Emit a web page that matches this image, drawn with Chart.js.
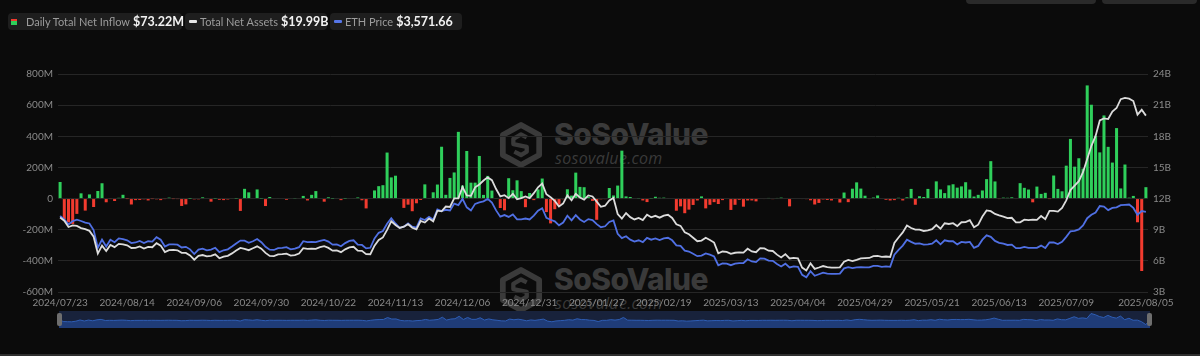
<!DOCTYPE html>
<html><head><meta charset="utf-8">
<script src="https://cdn.jsdelivr.net/npm/chart.js@4.4.1/dist/chart.umd.min.js"></script>
<style>
html,body{margin:0;padding:0;background:#0b0b0b;width:1200px;height:356px;overflow:hidden;font-family:Lato,"Noto Sans",sans-serif;}
#wrap{position:relative;width:1200px;height:356px;}
#main{position:absolute;left:0;top:0;}
.pill{position:absolute;top:13px;height:17px;background:#1e1e1e;border-radius:4px;display:flex;align-items:center;white-space:nowrap;box-sizing:border-box;}
.pill > span{flex-shrink:0;}
.lab{color:#9c9c9c;font-size:11px;}
.val{color:#f2f2f2;font-size:12.5px;font-weight:700;margin-left:3px;}
.ic1{width:6px;height:6px;margin-left:3px;margin-right:9px;background:linear-gradient(#f03a2e 0 35%,#2fce5a 35% 100%);}
.dash{width:8px;height:3px;border-radius:1px;margin-left:4px;margin-right:3px;}
.topbtn{position:absolute;top:-6px;height:10px;background:#2a2a2a;border-radius:4px;}
.wm{position:absolute;pointer-events:none;color:#3a3a3a;}
.wm .t1{position:absolute;left:55px;top:-6px;font-family:Inter,"Open Sans",sans-serif;font-weight:800;font-size:30px;letter-spacing:-0.6px;}
.wm .t2{position:absolute;left:56px;top:25px;font-family:"Open Sans",sans-serif;font-style:italic;font-size:16px;letter-spacing:0.3px;}
#navbox{position:absolute;left:59px;top:311px;width:1091px;height:17px;background:#18223b;}
#nav{position:absolute;left:0;top:0;}
.handle{position:absolute;top:313px;width:5px;height:13px;background:#6e6e6e;border-radius:2px;}
#bottomline{position:absolute;left:0;top:354px;width:1200px;height:2px;background:#2e2e2e;}
</style>
</head>
<body>
<div id="wrap">
  <div class="wm" style="left:499px;top:122px;width:220px;height:50px">
    <svg width="44" height="46" viewBox="0 0 46 48" style="position:absolute;left:0;top:0">
      <polygon points="23,3 42,13.5 42,34.5 23,45 4,34.5 4,13.5" fill="none" stroke="#3a3a3a" stroke-width="6" stroke-linejoin="round"/>
      <path d="M29 16 L23 13 L15 17.5 L15 23 L29 26 L29 31 L23 34.5 L16 31" fill="none" stroke="#3a3a3a" stroke-width="4.5" stroke-linejoin="round"/>
    </svg>
    <div class="t1">SoSoValue</div>
    <div class="t2">sosovalue.com</div>
  </div>
  <div class="wm" style="left:499px;top:267px;width:220px;height:50px">
    <svg width="44" height="46" viewBox="0 0 46 48" style="position:absolute;left:0;top:0">
      <polygon points="23,3 42,13.5 42,34.5 23,45 4,34.5 4,13.5" fill="none" stroke="#3a3a3a" stroke-width="6" stroke-linejoin="round"/>
      <path d="M29 16 L23 13 L15 17.5 L15 23 L29 26 L29 31 L23 34.5 L16 31" fill="none" stroke="#3a3a3a" stroke-width="4.5" stroke-linejoin="round"/>
    </svg>
    <div class="t1">SoSoValue</div>
    <div class="t2">sosovalue.com</div>
  </div>
  <canvas id="main" width="1200" height="356"></canvas>
  <div class="topbtn" style="left:966px;width:130px"></div>
  <div class="topbtn" style="left:1102px;width:95px"></div>
  <div class="pill" style="left:8px;width:174px"><span class="ic1"></span><span class="lab">Daily Total Net Inflow</span><span class="val" id="v1"></span></div>
  <div class="pill" style="left:185px;width:142px"><span class="dash" style="background:#e6e6e6"></span><span class="lab">Total Net Assets</span><span class="val" id="v2"></span></div>
  <div class="pill" style="left:330px;width:132px"><span class="dash" style="background:#5676e8"></span><span class="lab">ETH Price</span><span class="val" id="v3"></span></div>
  <div id="navbox"><canvas id="nav" width="1091" height="17"></canvas></div>
  <div class="handle" style="left:57px"></div>
  <div class="handle" style="left:1147px"></div>
  <div id="bottomline"></div>
</div>
<script>
// ---- categories (US trading days) ----
const startDate = '2024-07-23';
const endDate = '2025-08-05';
const marketHolidays = ['2024-09-02','2024-11-28','2024-12-25','2025-01-01','2025-01-09','2025-01-20','2025-02-17','2025-04-18','2025-05-26','2025-06-19','2025-07-04'];
const tickLabels = ['2024/07/23','2024/08/14','2024/09/06','2024/09/30','2024/10/22','2024/11/13','2024/12/06','2024/12/31','2025/01/27','2025/02/19','2025/03/13','2025/04/04','2025/04/29','2025/05/21','2025/06/13','2025/07/09','2025/08/05'];

const categories = [];
for (let d = new Date(startDate + 'T00:00:00Z'); d <= new Date(endDate + 'T00:00:00Z'); d.setUTCDate(d.getUTCDate() + 1)) {
  const iso = d.toISOString().slice(0, 10);
  const wd = d.getUTCDay();
  if (wd === 0 || wd === 6 || marketHolidays.includes(iso)) continue;
  categories.push(iso.replace(/-/g, '/'));
}

// ---- series: Daily Total Net Inflow (USD millions) ----
const netInflow = [
  106.6,-133.3,-152.3,-162.7,-98.3,33.7,-77.2,26.7,-54.3,48.8,
  98.4,-23.7,-2.0,-15.7,4.9,24.3,-0.3,-38,-10,-9,
  -5,-12,-1,-5,-10,-2,6,-1,-2,-47.4,
  -37.5,0.1,-5.2,-5,8,0,-20,1,-8,-10,
  -6,3,1,-79.3,62.5,40,0,58.7,1,-48,
  10,-3,3,0,-8,0,2,0,17,-12,
  24,48,0,-20,8,1,0,-10,1,3,
  3,7,-10.9,-63.2,0,52.3,79.7,85.9,295.5,135.9,
  146.9,-3.2,-59.8,-39.1,-81.3,-30.3,-9.2,91.2,2.8,40.3,
  90.1,332.9,24.2,132.6,167.7,428.5,83.8,305.7,102.1,102.2,
  273.7,23.6,145.7,51.3,2.5,-60.5,-75.1,130.8,53.6,117.2,
  47.8,-55.4,35.9,-10,58.9,128.7,-86.8,-159.4,-68.4,-39.4,
  -5,59.8,19,166.6,75,73,10,-15,-136.2,-5,
  -4,67.8,20,83.5,307.8,14,10,0,2,-12,
  -22.5,1.6,11.7,5,6,3,0,-78,-50,-94,
  -71,-41,-12,14,-63,-40,-23,-35,-10,-3,
  -73,-40,-8,-52,-12,-12,-18,0,-3,4,
  -4,4,6,0,-50,0,0,-3,-4,-11,
  -38,-28,-6,-9,-12,-3,-25.4,38.8,-23,63.5,
  104.1,64.1,18.4,-2.3,6.5,20.1,0,-8,-12,-10,
  5,-12,8,62,-39.8,15,10,62,0,110.5,
  58.7,35,84.9,91.9,70.2,78.2,105,58,13,24,
  52,124.9,240.3,110,-2.1,6,5,8,-3,99,
  69,58,-24,77,30,37,-1,148,62.1,46.7,
  211.3,383.1,204.9,259.0,192.3,726.7,602.7,402.5,296.6,533.9,
  332.2,231.2,452.7,65.1,218.6,5.8,17.0,-152.3,-465.1,73.22
];

// ---- series: Total Net Assets (USD billions) ----
const totalNetAssets = [
  10.18,9.87,9.26,9.41,9.37,9.16,9.05,8.89,8.33,6.70,
  7.47,6.95,7.54,7.32,7.64,7.59,7.50,7.24,7.26,7.39,
  7.19,7.35,7.31,7.70,7.47,6.85,7.04,7.05,7.02,6.77,
  6.77,6.52,6.11,6.49,6.56,6.43,6.49,6.63,6.25,6.41,
  6.48,6.72,6.99,7.24,7.16,7.03,7.21,7.40,7.18,6.77,
  6.47,6.46,6.62,6.65,6.70,6.50,6.56,6.70,7.22,7.15,
  7.17,7.16,7.32,7.41,7.25,6.98,7.01,6.84,7.11,7.30,
  7.36,6.98,6.96,6.65,6.64,7.46,8.01,8.26,8.99,9.81,
  9.45,9.17,9.29,9.53,9.19,9.03,9.84,9.69,10.07,9.81,
  10.83,10.77,11.23,11.19,12.01,12.02,13.11,12.30,12.26,13.08,
  13.36,13.74,14.04,13.77,12.92,12.21,12.33,12.04,12.46,11.93,
  12.05,12.21,12.04,12.52,13.09,13.44,12.42,12.12,11.78,11.24,
  11.53,12.31,11.83,12.46,12.11,11.90,12.30,12.20,11.71,11.21,
  11.31,11.81,12.06,10.51,10.08,10.61,10.21,9.99,10.14,9.92,
  10.44,10.19,10.34,10.16,10.36,10.44,10.13,9.53,9.37,8.76,
  8.56,8.23,7.89,7.95,8.22,8.01,7.76,6.72,6.90,6.86,
  6.67,6.78,6.81,6.80,7.17,6.91,6.83,7.23,7.20,6.98,
  6.95,6.60,6.33,6.65,6.23,6.28,6.25,5.35,5.07,5.76,
  5.23,5.36,5.50,5.40,5.35,5.34,5.37,5.92,6.09,5.97,
  6.10,6.24,6.27,6.28,6.46,6.47,6.38,6.42,6.37,7.73,
  8.25,8.74,9.40,9.16,9.01,9.01,8.88,8.93,9.06,9.45,
  9.09,9.62,9.55,9.63,9.35,9.72,9.73,9.91,9.24,9.48,
  10.27,10.86,10.79,10.52,10.38,10.26,10.11,10.15,9.71,9.71,
  9.97,9.92,9.98,9.95,10.32,10.02,10.81,10.81,10.74,11.10,
  11.83,12.82,13.25,13.68,14.54,15.82,17.08,18.04,19.53,19.72,
  19.66,20.38,20.72,21.57,21.69,21.62,21.40,20.09,20.55,19.99
];

// ---- series: ETH Price (USD) ----
const ethPrice = [
  3440,3335,3170,3275,3320,3280,3230,3200,2990,2420,
  2680,2460,2680,2600,2720,2700,2660,2570,2590,2640,
  2570,2630,2620,2760,2680,2460,2530,2530,2520,2430,
  2450,2370,2220,2360,2390,2340,2360,2420,2280,2340,
  2370,2460,2560,2650,2650,2580,2630,2700,2600,2450,
  2360,2350,2410,2420,2440,2370,2390,2440,2630,2600,
  2610,2600,2640,2670,2620,2520,2530,2470,2570,2640,
  2660,2520,2510,2400,2420,2720,2900,2960,3190,3370,
  3200,3060,3100,3200,3100,3070,3360,3310,3410,3320,
  3650,3600,3640,3620,3840,3790,3990,3720,3620,3830,
  3880,3910,3990,3870,3620,3420,3470,3410,3490,3330,
  3330,3360,3330,3450,3610,3690,3380,3320,3270,3140,
  3230,3450,3300,3470,3330,3250,3340,3310,3180,3080,
  3110,3250,3300,2870,2730,2790,2680,2620,2660,2600,
  2740,2680,2720,2670,2720,2740,2660,2500,2480,2330,
  2300,2230,2150,2170,2240,2200,2140,1860,1920,1910,
  1860,1910,1930,1930,2050,1980,1960,2080,2070,2010,
  2000,1900,1820,1910,1790,1820,1810,1550,1470,1670,
  1520,1570,1620,1590,1580,1580,1590,1760,1800,1770,
  1790,1800,1790,1790,1840,1840,1810,1820,1810,2200,
  2350,2490,2680,2610,2550,2560,2520,2530,2550,2660,
  2530,2660,2630,2630,2530,2610,2590,2610,2420,2480,
  2680,2820,2770,2640,2580,2550,2510,2520,2410,2410,
  2450,2420,2420,2420,2490,2410,2590,2590,2540,2610,
  2770,2950,2960,3010,3140,3370,3480,3550,3760,3740,
  3630,3700,3720,3790,3800,3810,3700,3480,3600,3571.66
];

// ---- legend values ----
const last = netInflow.length - 1;
document.getElementById('v1').textContent = '$' + netInflow[last].toFixed(2) + 'M';
document.getElementById('v2').textContent = '$' + totalNetAssets[last].toFixed(2) + 'B';
document.getElementById('v3').textContent = '$' + ethPrice[last].toLocaleString('en-US', {minimumFractionDigits: 2, maximumFractionDigits: 2});

Chart.defaults.font.family = 'Lato, "Noto Sans", sans-serif';
Chart.defaults.color = '#8a8a8a';

const tickFont = {size: 10};

new Chart(document.getElementById('main').getContext('2d'), {
  data: {
    labels: categories,
    datasets: [
      {type: 'line', label: 'Total Net Assets', data: totalNetAssets, yAxisID: 'yR',
       borderColor: '#dcdcdc', borderWidth: 1.8, pointRadius: 0, tension: 0, order: 0},
      {type: 'line', label: 'ETH Price', data: ethPrice, yAxisID: 'yP',
       borderColor: '#5070e4', borderWidth: 1.8, pointRadius: 0, tension: 0, order: 1},
      {type: 'bar', label: 'Daily Total Net Inflow', data: netInflow, yAxisID: 'yL',
       backgroundColor: c => (c.raw >= 0 ? '#2fcf5b' : '#f23b2f'),
       barPercentage: 0.72, categoryPercentage: 1, order: 2}
    ]
  },
  options: {
    responsive: false, animation: false, devicePixelRatio: 1,
    layout: {padding: {top: 74, left: 0, right: 0, bottom: 0}},
    plugins: {legend: {display: false}, tooltip: {enabled: false}},
    scales: {
      x: {
        type: 'category', offset: true,
        grid: {display: false, drawTicks: false}, border: {display: false},
        ticks: {
          autoSkip: false, maxRotation: 0, minRotation: 0, padding: 5, font: tickFont, color: '#8a8a8a',
          callback: function (v) { const l = this.getLabelForValue(v); return tickLabels.includes(l) ? l : null; }
        },
        afterFit: s => { s.height = 64; }
      },
      yL: {
        position: 'left', min: -600, max: 800,
        grid: {color: '#262626', lineWidth: 1, drawTicks: false}, border: {display: false},
        ticks: {stepSize: 200, padding: 5, font: tickFont, color: '#8a8a8a',
                callback: v => (v === 0 ? '0' : v + 'M')},
        afterFit: s => { s.width = 58; }
      },
      yR: {
        position: 'right', min: 3, max: 24,
        grid: {display: false, drawTicks: false}, border: {display: false},
        ticks: {stepSize: 3, padding: 5, font: tickFont, color: '#8a8a8a', callback: v => v + 'B'},
        afterFit: s => { s.width = 52; }
      },
      yP: {display: false, min: 1000, max: 8000}
    }
  }
});

new Chart(document.getElementById('nav').getContext('2d'), {
  type: 'line',
  data: {labels: categories, datasets: [{data: netInflow, fill: 'start', borderColor: '#2e5db4', borderWidth: 1,
    backgroundColor: '#1f3c78', pointRadius: 0, tension: 0}]},
  options: {
    responsive: false, animation: false, devicePixelRatio: 1,
    layout: {padding: 0},
    plugins: {legend: {display: false}, tooltip: {enabled: false}},
    scales: {x: {display: false}, y: {display: false, min: -830, max: 1000}}
  }
});
</script>
</body></html>
